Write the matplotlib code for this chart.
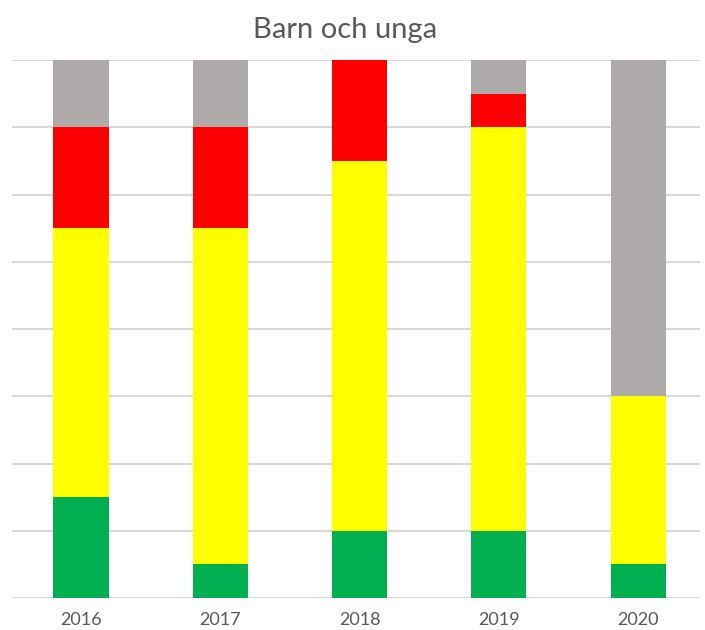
import numpy as np
import matplotlib.pyplot as plt

years = ['2016', '2017', '2018', '2019', '2020']
# counts (in half-gridline steps, 16 per bar)
green = [3, 1, 2, 2, 1]
yellow = [8, 10, 11, 12, 5]
red = [3, 3, 3, 1, 0]
gray = [2, 2, 0, 1, 10]

series = [(green, '#00B050'), (yellow, '#FFFF00'), (red, '#FF0000'), (gray, '#AEAAAA')]

plt.rcParams['font.family'] = ['Lato', 'DejaVu Sans']

fig = plt.figure(figsize=(7.05, 6.3), dpi=100)
ax = fig.add_axes([12 / 705, 32 / 630, 688 / 705, 538 / 630])

x = np.arange(len(years))
bottom = np.zeros(len(years))
for vals, col in series:
    ax.bar(x, vals, width=0.395, bottom=bottom, color=col, zorder=3)
    bottom += np.array(vals)

# category spacing is a bit wider than the gridlines' span
ax.set_xlim(-0.4955, 4.445)
ax.set_ylim(0, 16)
ax.set_yticks(np.arange(0, 17, 2))
ax.yaxis.grid(True, color='#D9D9D9', linewidth=1.5, zorder=0)
ax.tick_params(axis='y', length=0, labelleft=False)
ax.tick_params(axis='x', length=0, pad=10, labelsize=13, labelcolor='#595959')
ax.set_xticks(x)
ax.set_xticklabels(years)
for s in ax.spines.values():
    s.set_visible(False)

fig.text(345 / 705, 1 - 38 / 630, 'Barn och unga', ha='center', va='baseline',
         fontsize=21, color='#595959')

fig.savefig('out.png', dpi=100)
